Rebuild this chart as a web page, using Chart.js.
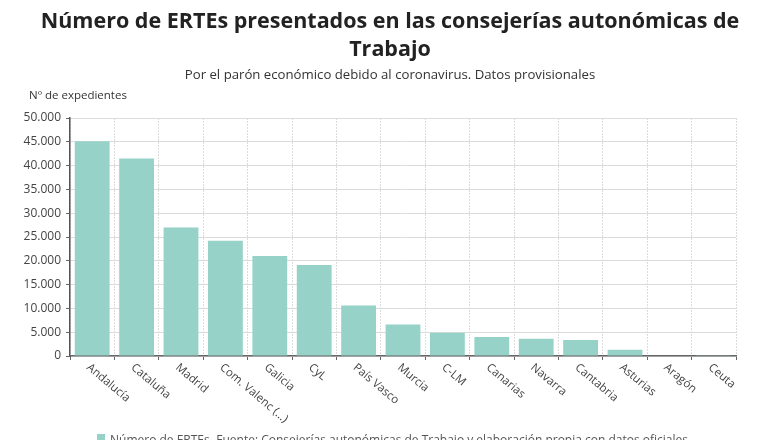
<!DOCTYPE html>
<html>
<head>
<meta charset="utf-8">
<script src="https://cdn.jsdelivr.net/npm/chart.js@4"></script>
<style>
    html, body { margin: 0; padding: 0; background: #fff; }
    #wrap { width: 780px; height: 440px; }
</style>
</head>
<body>
<div id="wrap"><canvas id="chart" width="780" height="440"></canvas></div>
<script>
"use strict";

// categories and values
const regions = ['Andalucía', 'Cataluña', 'Madrid', 'Com. Valenc (...)', 'Galicia', 'CyL',
    'País Vasco', 'Murcia', 'C-LM', 'Canarias', 'Navarra', 'Cantabria', 'Asturias', 'Aragón', 'Ceuta'];
const ertes = [45100, 41500, 27000, 24200, 21000, 19100, 10600, 6600, 4900, 4000, 3650, 3350, 1300, 120, 60];
const seriesName = 'Número de ERTEs';
const yAxisTitle = 'Nº de expedientes';
const titleLines = ['Número de ERTEs presentados en las consejerías autonómicas de', 'Trabajo'];
const subtitleText = 'Por el parón económico debido al coronavirus. Datos provisionales';
const sourceText = 'Fuente: Consejerías autonómicas de Trabajo y elaboración propia con datos oficiales';

const barColor = '#96d2c7';
const font = "'Open Sans', 'Noto Sans', sans-serif";

/**----------------------------------------------------------------------
 * [titles centred on the page, rotated x labels, axis caption, legend]
 *--------------------------------------------------------------*/
const extras = {
    id: 'extras',
    afterDraw(chart) {
        const ctx = chart.ctx;
        const x = chart.scales.x;
        const mid = chart.width / 2;

        ctx.save();
        ctx.textBaseline = 'middle';
        ctx.textAlign = 'center';
        ctx.fillStyle = '#222';
        ctx.font = 'bold 21.5px ' + font;
        titleLines.forEach(function(line, i) {
            ctx.fillText(line, mid, 22 + i * 28);
        });
        ctx.fillStyle = '#333';
        ctx.font = '13.2px ' + font;
        ctx.fillText(subtitleText, mid, 75);

        ctx.fillStyle = '#444';
        ctx.font = '11.5px ' + font;
        ctx.textAlign = 'left';
        regions.forEach(function(label, i) {
            ctx.save();
            ctx.translate(x.getPixelForTick(i) - 4, x.top + 10);
            ctx.rotate(40 * Math.PI / 180);
            ctx.fillText(label, 0, 0);
            ctx.restore();
        });

        ctx.fillStyle = '#333';
        ctx.fillText(yAxisTitle, 29, 96);

        // legend line, cut by the bottom edge
        ctx.fillStyle = barColor;
        ctx.fillRect(97, 434, 8, 8);
        ctx.fillStyle = '#555';
        ctx.font = '12px ' + font;
        ctx.fillText(seriesName, 110, 441);
        ctx.fillText('—  ' + sourceText, 198, 441);
        ctx.restore();
    }
};

new Chart(document.getElementById('chart').getContext('2d'), {
    type: 'bar',
    data: {
        labels: regions,
        datasets: [{
            label: seriesName,
            data: ertes,
            backgroundColor: barColor,
            borderWidth: 0,
            barPercentage: 0.98,
            categoryPercentage: 0.8
        }]
    },
    options: {
        responsive: false,
        animation: false,
        layout: {
            padding: { top: 118, left: 23, right: 44, bottom: 0 }
        },
        plugins: {
            legend: { display: false },
            tooltip: { enabled: false },
            title: { display: false }
        },
        scales: {
            x: {
                grid: {
                    color: '#dcdcdc',
                    tickColor: '#666',
                    tickLength: 4
                },
                border: { color: '#666', width: 1.5, dash: [2, 1] },
                ticks: { display: false },
                afterFit: function(scale) { scale.height = 84; }
            },
            y: {
                min: 0,
                max: 50000,
                grid: {
                    color: '#dcdcdc',
                    tickColor: '#666',
                    tickLength: 4
                },
                border: { color: '#555', width: 1.5 },
                ticks: {
                    stepSize: 5000,
                    color: '#444',
                    padding: 5,
                    font: { family: font, size: 12 },
                    callback: function(v) { return v.toLocaleString('de-DE'); }
                },
                afterFit: function(scale) { scale.width = 47; }
            }
        }
    },
    plugins: [extras]
});
</script>
</body>
</html>
